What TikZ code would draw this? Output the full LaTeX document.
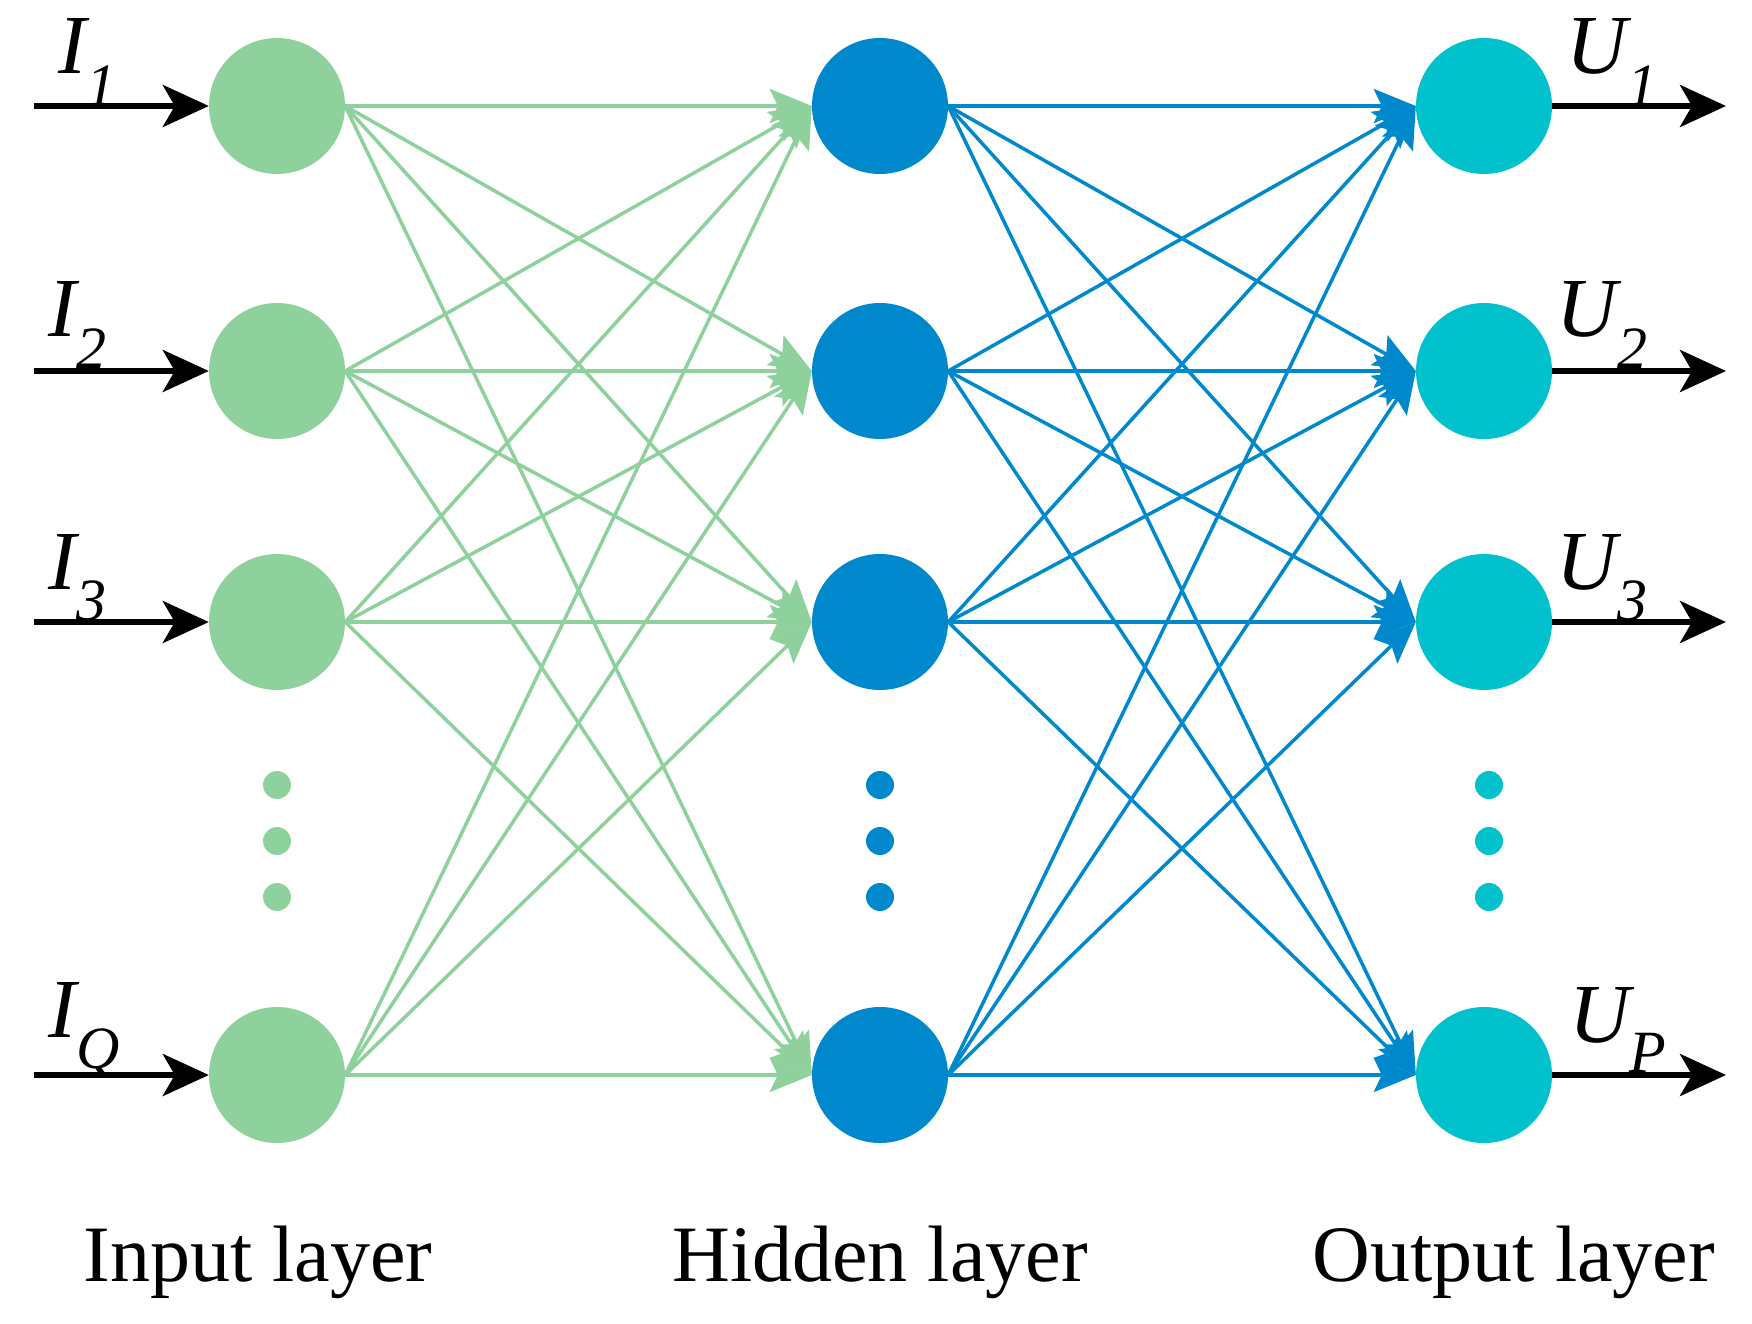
\documentclass[tikz,border=0pt]{standalone}
\usepackage{fontspec}
\setmainfont{Liberation Serif}
\usetikzlibrary{arrows.meta}
\definecolor{cg}{HTML}{8FD19C}
\definecolor{cb}{HTML}{0088CC}
\definecolor{cc}{HTML}{00C1CC}
\tikzset{
 neu/.style={circle,minimum size=136pt,inner sep=0pt},
 dot/.style={circle,minimum size=28pt,inner sep=0pt},
 gline/.style={cg,line width=3.5pt,-{Stealth[length=42pt,width=34pt,inset=8pt]}},
 bline/.style={cb,line width=3.5pt,-{Stealth[length=42pt,width=34pt,inset=8pt]}},
 io/.style={black,line width=6pt,-{Stealth[length=46pt,width=42pt,inset=12pt]}},
 lab/.style={font=\fontsize{80}{90}\selectfont},
 sym/.style={font=\fontsize{84}{90}\selectfont\itshape}
}
\begin{document}
\begin{tikzpicture}[x=1pt,y=-1pt]
\useasboundingbox (0,0) rectangle (1752,1324);
\foreach \n/\y in {1/106,2/371,3/622,4/1075}{
 \node[neu,fill=cg] (i\n) at (277,\y) {};
 \node[neu,fill=cb] (h\n) at (880,\y) {};
 \node[neu,fill=cc] (o\n) at (1484,\y) {};
 \coordinate (s\n) at (34,\y);
 \coordinate (e\n) at (1726,\y);
 \draw[io] (s\n) -- (i\n.west);
 \draw[io] (o\n.east) -- (e\n);
}
\foreach \k/\y in {a/785,b/841,c/897}{
 \node[dot,fill=cg] (di\k) at (277,\y) {};
 \node[dot,fill=cb] (dh\k) at (880,\y) {};
 \node[dot,fill=cc] (do\k) at (1489,\y) {};
}
\foreach \a in {1,...,4}{\foreach \b in {1,...,4}{
 \draw[gline] (i\a.east) -- (h\b.west);
 \draw[bline] (h\a.east) -- (o\b.west);
}}
\node[sym] (l1) at (88,62) {I\textsubscript{\fontsize{60}{60}\selectfont 1}};
\node[sym] (l2) at (78,325) {I\textsubscript{\fontsize{60}{60}\selectfont 2}};
\node[sym] (l3) at (78,578) {I\textsubscript{\fontsize{60}{60}\selectfont 3}};
\node[sym] (l4) at (84,1030) {I\textsubscript{\fontsize{60}{60}\selectfont Q}};
\node[sym] (u1) at (1612,62) {U\textsubscript{\fontsize{60}{60}\selectfont 1}};
\node[sym] (u2) at (1602,325) {U\textsubscript{\fontsize{60}{60}\selectfont 2}};
\node[sym] (u3) at (1602,578) {U\textsubscript{\fontsize{60}{60}\selectfont 3}};
\node[sym] (u4) at (1618,1030) {U\textsubscript{\fontsize{60}{60}\selectfont P}};
\node[lab] (t1) at (258,1262) {Input layer};
\node[lab] (t2) at (880,1262) {Hidden layer};
\node[lab] (t3) at (1514,1262) {Output layer};
\end{tikzpicture}
\end{document}
